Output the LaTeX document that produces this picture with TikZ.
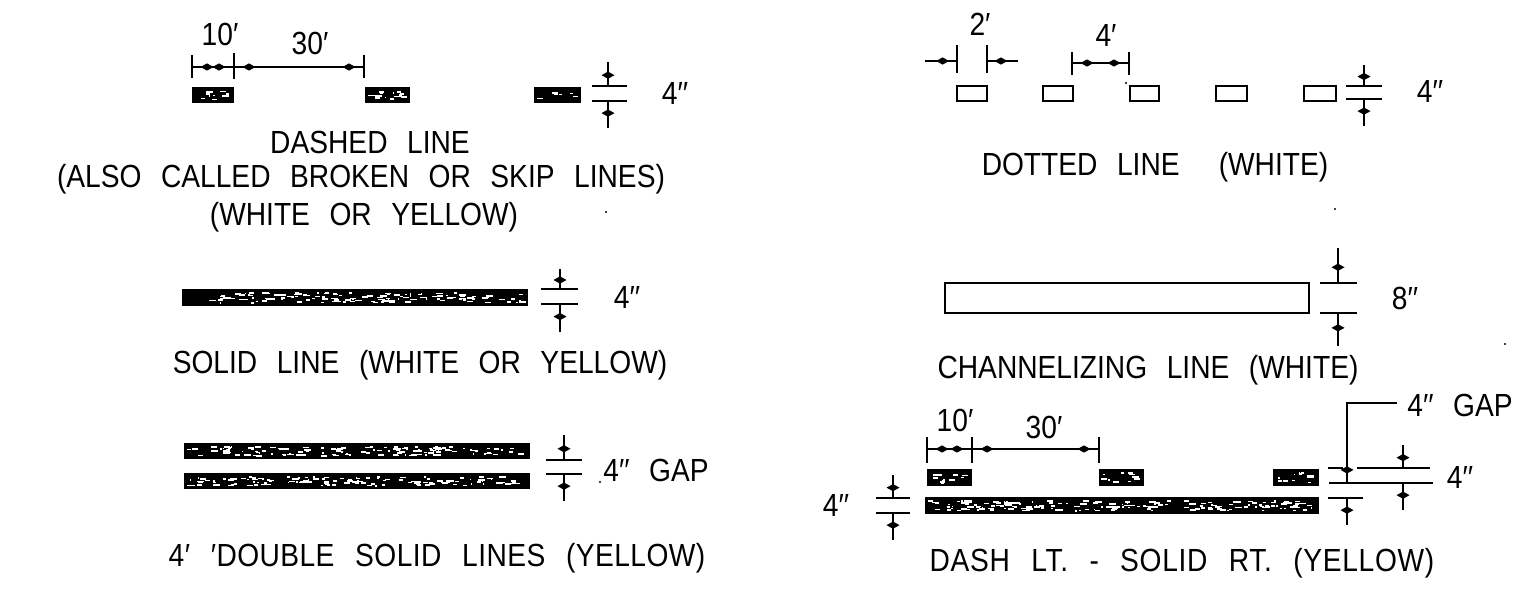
\documentclass[tikz,border=0pt]{standalone}
\usepackage{fontspec}
\usetikzlibrary{decorations.markings}
\newfontfamily\lab{Liberation Sans}[FakeStretch=0.88,WordSpace=2.5]
\tikzset{
  x=1pt,y=-1pt,
  every node/.style={inner sep=0pt,outer sep=0pt},
  label text/.style={font=\lab\fontsize{32}{32}\selectfont,text=black,anchor=center},
  dimline/.style={draw=black,line width=1.7pt},
  tickline/.style={draw=black,line width=1.5pt},
  blob/.pic={\fill[black] (-6.5pt,0pt) -- (0pt,3.6pt) -- (6.5pt,0pt) -- (0pt,-3.6pt) -- cycle;},
  tipped/.style={draw=black,line width=1.6pt,postaction={decorate},
    decoration={markings,mark=at position 0.55 with {\pic{blob};}}},
  bothtips/.style={draw=black,line width=1.6pt,postaction={decorate},
    decoration={markings,mark=at position 15pt with {\pic{blob};},mark=at position -15pt with {\pic{blob};}}},
  darkbar/.style={fill=black,draw=none,rectangle},
  openbar/.style={fill=white,draw=black,line width=1.9pt,rectangle},
  speck/.style={fill=black,draw=none,circle,minimum size=2.4pt}
}
\pgfmathsetseed{4217}
% name, x1, y1, x2, y2, speck count
\newcommand{\speckbar}[6]{%
  \node[darkbar,minimum width={(#4-#2)*1pt},minimum height={(#5-#3)*1pt}] (#1) at ({(#2+#4)/2},{(#3+#5)/2}) {};
  \foreach \i in {1,...,#6}{%
    \pgfmathsetmacro\sx{#2+2+rnd*(#4-#2-10)}%
    \pgfmathsetmacro\sy{#3+3+rnd*(#5-#3-7)}%
    \pgfmathsetmacro\sw{1+rnd*6}%
    \fill[white] (\sx,\sy) rectangle ++(\sw,1.6);
  }%
}
% name, x1, y1, x2, y2
\newcommand{\openbox}[5]{%
  \node[openbar,minimum width={(#4-#2)*1pt},minimum height={(#5-#3)*1pt}] (#1) at ({(#2+#4)/2},{(#3+#5)/2}) {};
}
% name, xc, xl, xr, y1, y2, arrow top y, arrow bottom y
\newcommand{\vdim}[8]{%
  \coordinate (#1la) at (#3,#5); \coordinate (#1ra) at (#4,#5);
  \coordinate (#1lb) at (#3,#6); \coordinate (#1rb) at (#4,#6);
  \coordinate (#1ua) at (#2,#7); \coordinate (#1ub) at (#2,#5);
  \coordinate (#1da) at (#2,#8); \coordinate (#1db) at (#2,#6);
  \draw[dimline] (#1la) -- (#1ra);
  \draw[dimline] (#1lb) -- (#1rb);
  \draw[tipped] (#1ua) -- (#1ub);
  \draw[tipped] (#1da) -- (#1db);
}
% name, x, y top, y bottom
\newcommand{\dimtick}[4]{%
  \coordinate (#1t) at (#2,#3); \coordinate (#1b) at (#2,#4);
  \draw[tickline] (#1t) -- (#1b);
}
\begin{document}
\begin{tikzpicture}
\useasboundingbox (0,0) rectangle (1521,600);
\fill[white] (0,0) rectangle (1521,600);

% ---- Dashed line
\speckbar{da}{192}{87}{234}{103}{10}
\speckbar{db}{365}{87}{410}{103}{14}
\speckbar{dc}{534}{87}{581}{103}{6}
\dimtick{dt1}{192}{55}{78}
\dimtick{dt2}{234}{53}{79}
\dimtick{dt3}{364}{55}{78}
\coordinate (dm1) at (192,67); \coordinate (dm2) at (234,67); \coordinate (dm3) at (364,67);
\draw[bothtips] (dm1) -- (dm2);
\draw[bothtips] (dm2) -- (dm3);
\vdim{dv}{608}{592}{627}{86}{101}{62}{128}
\node[label text] (t10a) at (220,34) {10′};
\node[label text] (t30a) at (310,43) {30′};
\node[label text] (t4a) at (675,93) {4′′};
\node[label text] (tda) at (370,142) {DASHED LINE};
\node[label text] (tdb) at (361,179) {(ALSO CALLED BROKEN OR SKIP LINES)};
\node[label text] (tdc) at (364,217) {(WHITE OR YELLOW)};

% ---- Solid line
\speckbar{sl}{182}{289}{528}{306}{130}
\vdim{sv}{560}{541}{578}{289}{304}{269}{332}
\node[label text] (t4s) at (627,297) {4′′};
\node[label text] (ts) at (420,365) {SOLID LINE (WHITE OR YELLOW)};

% ---- Double solid
\speckbar{ua}{184}{443}{530}{459}{130}
\speckbar{ub}{184}{473}{530}{489}{130}
\vdim{uv}{564}{546}{582}{460}{474}{435}{501}
\node[label text] (t4u) at (656,470) {4′′ GAP};
\node[label text] (tu) at (437,558) {\addfontfeature{LetterSpace=1.4}4′ ′DOUBLE SOLID LINES (YELLOW)};

% ---- Dotted line
\openbox{oa}{957}{86}{987}{101}
\openbox{ob}{1043}{86}{1073}{101}
\openbox{oc}{1130}{86}{1159}{101}
\openbox{od}{1216}{86}{1247}{101}
\openbox{oe}{1304}{86}{1336}{101}
\dimtick{ot1}{957}{45}{73}
\dimtick{ot2}{987}{45}{73}
\dimtick{ot3}{1072}{52}{75}
\dimtick{ot4}{1129}{52}{75}
\coordinate (of1) at (925,61); \coordinate (on1) at (957,61);
\coordinate (of2) at (1018,61); \coordinate (on2) at (987,61);
\draw[tipped] (of1) -- (on1);
\draw[tipped] (of2) -- (on2);
\coordinate (om1) at (1072,63); \coordinate (om2) at (1129,63);
\draw[bothtips] (om1) -- (om2);
\vdim{ov}{1364}{1346}{1382}{86}{99}{65}{126}
\node[label text] (t2o) at (980,24) {2′};
\node[label text] (t4o) at (1106,35) {4′};
\node[label text] (t4p) at (1430,91) {4′′};
\node[label text] (to) at (1155,167) {DOTTED LINE\ \ (WHITE)};

% ---- Channelizing line
\openbox{cl}{945}{283}{1309}{313}
\vdim{cv}{1338}{1320}{1357}{283}{313}{248}{346}
\node[label text] (t8c) at (1405,298) {8′′};
\node[label text] (tc) at (1148,370) {CHANNELIZING LINE (WHITE)};

% ---- Dash left, solid right
\speckbar{ea}{927}{469}{972}{486}{12}
\speckbar{eb}{1099}{469}{1144}{486}{10}
\speckbar{ec}{1273}{469}{1319}{486}{12}
\speckbar{ef}{925}{497}{1319}{514}{170}
\dimtick{et1}{927}{437}{463}
\dimtick{et2}{972}{437}{463}
\dimtick{et3}{1099}{437}{463}
\coordinate (em1) at (927,449); \coordinate (em2) at (972,449); \coordinate (em3) at (1099,449);
\draw[bothtips] (em1) -- (em2);
\draw[bothtips] (em2) -- (em3);
\vdim{el}{893}{876}{910}{498}{513}{475}{540}
% right-hand stacked dimensions
\coordinate (g1) at (1328,468); \coordinate (g2) at (1343,468);
\coordinate (g3) at (1357,468); \coordinate (g4) at (1430,468);
\coordinate (g5) at (1329,483); \coordinate (g6) at (1433,483);
\coordinate (g7) at (1328,498); \coordinate (g8) at (1363,498);
\draw[dimline] (g1) -- (g2);
\draw[dimline] (g3) -- (g4);
\draw[dimline] (g5) -- (g6);
\draw[dimline] (g7) -- (g8);
\coordinate (l1) at (1397,403); \coordinate (l2) at (1347,403); \coordinate (l3) at (1347,483);
\draw[dimline] (l1) -- (l2) -- (l3);
\coordinate (l3b) at (1347,478); \coordinate (l3a) at (1347,460);
\draw[tipped] (l3a) -- (l3b);
\coordinate (l4) at (1347,525); \coordinate (l5) at (1347,498);
\draw[tipped] (l4) -- (l5);
\coordinate (r1) at (1403,445); \coordinate (r2) at (1403,468);
\coordinate (r3) at (1403,510); \coordinate (r4) at (1403,483);
\draw[tipped] (r1) -- (r2);
\draw[tipped] (r3) -- (r4);
\node[label text] (t10e) at (955,420) {10′};
\node[label text] (t30e) at (1044,427) {30′};
\node[label text] (t4g) at (1460,405) {4′′ GAP};
\node[label text] (t4r) at (1460,477) {4′′};
\node[label text] (t4l) at (836,505) {4′′};
\node[label text] (te) at (1182,563) {\addfontfeature{LetterSpace=2.2}DASH LT. - SOLID RT. (YELLOW)};

% ---- stray specks of the scan
\node[speck] (s1) at (606,212) {};
\node[speck] (s2) at (1126,83) {};
\node[speck] (s3) at (1335,209) {};
\node[speck] (s4) at (1505,344) {};
\node[speck] (s5) at (600,482) {};
\end{tikzpicture}
\end{document}
